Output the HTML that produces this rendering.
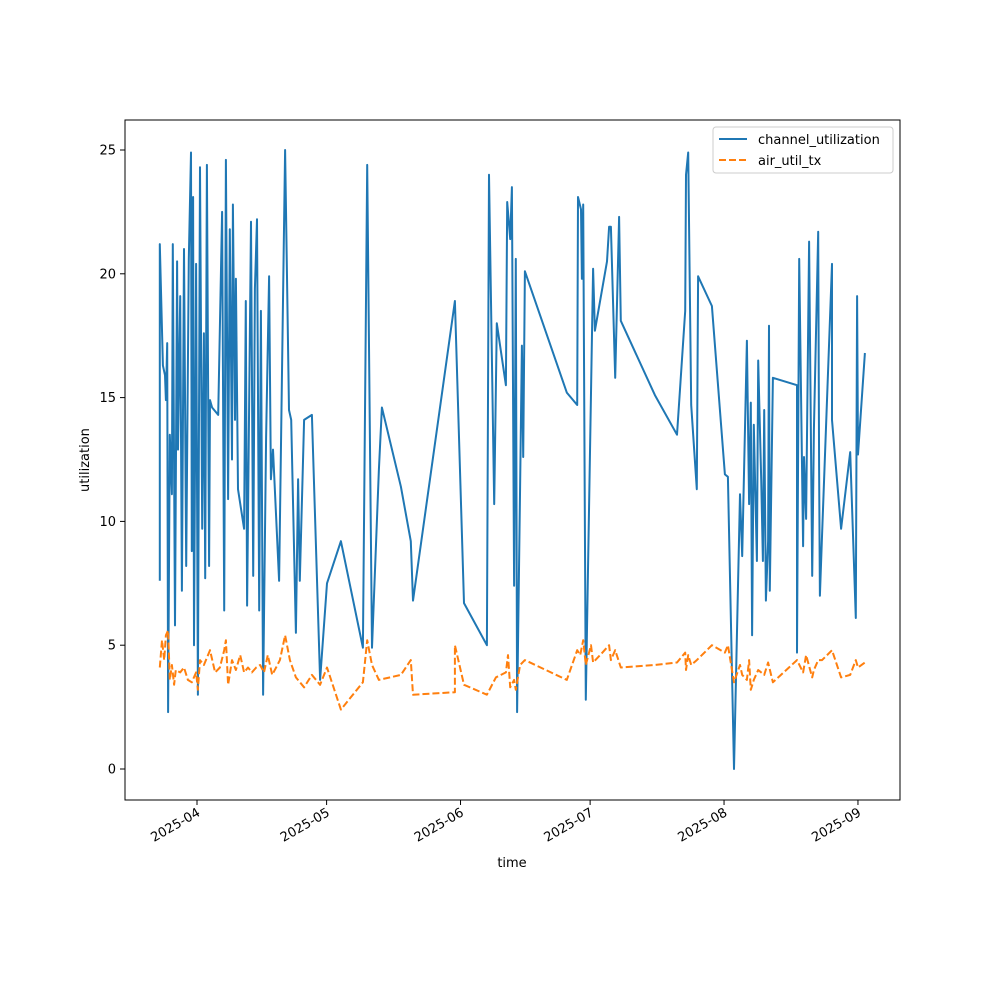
<!DOCTYPE html>
<html><head><meta charset="utf-8"><style>
body{margin:0;background:#fff;font-family:"Liberation Sans","DejaVu Sans",sans-serif}
</style></head><body>
<svg width="1000" height="1000" viewBox="0 0 1000 1000" xmlns="http://www.w3.org/2000/svg" font-family="DejaVu Sans, Liberation Sans, sans-serif">
<rect width="1000" height="1000" fill="#fff"/>
<g id="plot"></g>
<rect x="125" y="120" width="775" height="680" fill="none" stroke="#000" stroke-width="1"/>
<g id="axes"></g>
<text x="512" y="867" font-size="13" text-anchor="middle">time</text>
<text transform="translate(89,460) rotate(-90)" font-size="13" text-anchor="middle">utilization</text>
<g>
<rect x="713" y="127" width="180" height="46" rx="3" fill="#fff" stroke="#ccc"/>
<line x1="719" y1="139" x2="747" y2="139" stroke="#1f77b4" stroke-width="2"/>
<text x="758" y="144" font-size="13">channel_utilization</text>
<line x1="719" y1="160" x2="747" y2="160" stroke="#ff7f0e" stroke-width="2" stroke-dasharray="7,3"/>
<text x="758" y="165" font-size="13">air_util_tx</text>
</g>
</svg>
<script>
const chDays=[-8.6,-8.6,-7.9,-7.4,-7.2,-6.9,-6.7,-6.3,-5.8,-5.6,-5.1,-4.6,-4.4,-3.9,-3.5,-3.0,-2.5,-1.9,-1.4,-1.2,-0.9,-0.7,-0.2,0.2,0.7,1.2,1.6,1.9,2.3,2.8,3.0,3.5,4.9,5.8,6.3,6.7,7.2,7.6,8.1,8.3,8.8,9.0,9.5,10.9,11.3,11.6,12.5,13.0,13.4,13.9,14.4,14.8,15.3,16.0,16.7,17.1,17.6,19.0,20.4,21.3,21.8,22.9,23.4,23.8,24.8,26.6,28.5,30.1,33.3,38.4,39.4,40.5,42.1,42.8,47.2,49.5,50.0,59.7,61.8,67.1,67.6,68.8,69.4,71.5,71.8,72.5,72.9,73.4,73.8,74.1,74.8,75.2,75.5,75.9,85.6,88.0,88.2,88.9,89.1,89.4,90.0,91.7,92.1,94.9,95.4,95.8,96.8,97.7,98.1,106.0,111.1,113.0,113.2,113.7,114.4,115.7,116.0,119.2,122.2,122.9,124.3,125.7,126.2,127.3,127.8,128.2,128.5,128.9,129.6,129.9,130.6,131.0,131.3,131.7,132.2,132.4,132.6,133.3,138.9,138.9,139.4,140.3,140.5,141.0,141.7,142.4,142.8,143.8,144.0,144.2,144.7,147.0,147.0,149.1,151.2,152.5,152.8,153.0,154.6];
const chVals=[7.6,21.2,16.3,15.9,14.9,17.2,2.3,13.5,11.1,21.2,5.8,20.5,12.9,19.1,7.2,21.0,8.2,20.6,24.9,8.8,23.1,5.0,20.4,3.0,24.3,9.7,17.6,7.7,24.4,8.2,14.9,14.6,14.3,22.5,6.4,24.6,10.9,21.8,12.5,22.8,14.1,19.8,11.3,9.7,18.9,6.6,22.1,7.8,19.4,22.2,6.4,18.5,3.0,13.4,19.9,11.7,12.9,7.6,25.0,14.5,14.1,5.5,11.7,7.6,14.1,14.3,3.6,7.5,9.2,4.9,24.4,4.9,12.1,14.6,11.4,9.2,6.8,18.9,6.7,5.0,24.0,10.7,18.0,15.5,22.9,21.4,23.5,7.4,20.6,2.3,11.4,17.1,12.6,20.1,15.2,14.7,23.1,22.6,19.8,22.8,2.8,20.2,17.7,20.5,21.9,21.9,15.8,22.3,18.1,15.1,13.5,18.5,24.0,24.9,14.7,11.3,19.9,18.7,11.9,11.8,0,11.1,8.6,17.3,10.7,14.8,5.4,13.9,8.4,16.5,11.7,8.4,14.5,6.8,9.2,17.9,7.2,15.8,15.5,4.7,20.6,9.0,12.6,10.1,21.3,7.8,13.7,21.7,12.2,7.0,9.5,20.4,14.1,9.7,12.8,6.1,19.1,12.7,16.8];
const airDays=[-8.6,-8.1,-7.6,-7.2,-6.7,-6.3,-5.8,-5.3,-4.9,-3.9,-3.0,-2.1,-1.2,-0.2,0.2,0.7,1.6,3.0,4.2,5.3,6.3,6.7,7.2,8.1,9.0,10.0,10.9,11.8,12.7,13.7,14.6,15.5,16.4,17.4,18.3,19.2,20.4,21.5,22.9,24.8,26.6,28.5,30.1,33.3,38.4,39.4,40.5,42.1,47.2,49.5,50.0,59.7,59.7,61.8,67.1,69.2,71.5,72.0,72.5,73.4,73.8,74.8,75.9,85.6,88.0,88.7,89.4,90.0,91.2,91.7,93.3,95.4,95.8,96.8,98.1,106.0,111.1,113.0,113.2,113.7,114.4,115.7,119.2,122.2,122.9,124.3,125.7,126.2,127.3,127.8,128.2,128.9,129.9,131.3,132.2,133.3,138.9,140.3,141.0,142.4,142.8,143.8,144.7,147.0,149.1,151.2,152.5,153.0,154.6];
const airVals=[4.1,5.2,4.4,5.4,5.6,3.6,4.2,3.4,4.0,3.9,4.1,3.6,3.5,3.9,3.2,4.4,4.2,4.8,3.9,4.1,4.8,5.2,3.4,4.4,4.0,4.6,3.9,4.1,3.9,4.1,4.2,3.9,4.6,3.8,4.1,4.4,5.4,4.4,3.7,3.3,3.8,3.4,4.1,2.4,3.5,5.2,4.2,3.6,3.8,4.4,3.0,3.1,5.0,3.4,3.0,3.7,3.9,4.6,3.3,3.6,3.2,4.2,4.4,3.6,4.8,4.6,5.2,4.2,5.0,4.3,4.6,5.0,4.4,4.8,4.1,4.2,4.3,4.7,4.0,4.6,4.2,4.4,5.0,4.7,5.0,3.5,4.2,3.8,3.6,4.4,3.2,3.6,4.0,3.8,4.3,3.5,4.4,3.9,4.6,3.7,4.0,4.4,4.4,4.8,3.7,3.8,4.4,4.1,4.3];
const xTickDays=[0,30,61,91,122,153];
const xTickLabels=["2025-04","2025-05","2025-06","2025-07","2025-08","2025-09"];
const yTicks=[0,5,10,15,20,25];
const NS="http://www.w3.org/2000/svg";
function xs(d){return 197+d*4.32;}
function ys(v){return 769-v*24.76;}
const plot=document.getElementById('plot'), axes=document.getElementById('axes');
function mk(tag,attrs,parent){const e=document.createElementNS(NS,tag);for(const k in attrs)e.setAttribute(k,attrs[k]);parent.appendChild(e);return e;}
function pts(d,v){return d.map((x,i)=>xs(x).toFixed(1)+','+ys(v[i]).toFixed(1)).join(' ');}
const l1=mk('polyline',{points:pts(chDays,chVals),fill:'none',stroke:'#1f77b4','stroke-width':2,'stroke-linejoin':'round'},plot);


const l2=mk('polyline',{points:pts(airDays,airVals),fill:'none',stroke:'#ff7f0e','stroke-width':2,'stroke-dasharray':'7,3','stroke-linejoin':'round'},plot);


xTickDays.forEach((d,i)=>{const x=xs(d);
 const t=mk('line',{x1:x,y1:800,x2:x,y2:805,stroke:'#000'},axes);
 
 
 const tx=mk('text',{transform:`translate(${x+4},${815}) rotate(-30)`,'font-size':13,'text-anchor':'end'},axes);
 tx.textContent=xTickLabels[i];
 
 
});
yTicks.forEach(v=>{const y=ys(v);
 const t=mk('line',{x1:120,y1:y,x2:125,y2:y,stroke:'#000'},axes);
 
 
 const tx=mk('text',{x:116,y:y+4.5,'font-size':13,'text-anchor':'end'},axes);
 tx.textContent=v;
 
 
});
</script>
</body></html>
